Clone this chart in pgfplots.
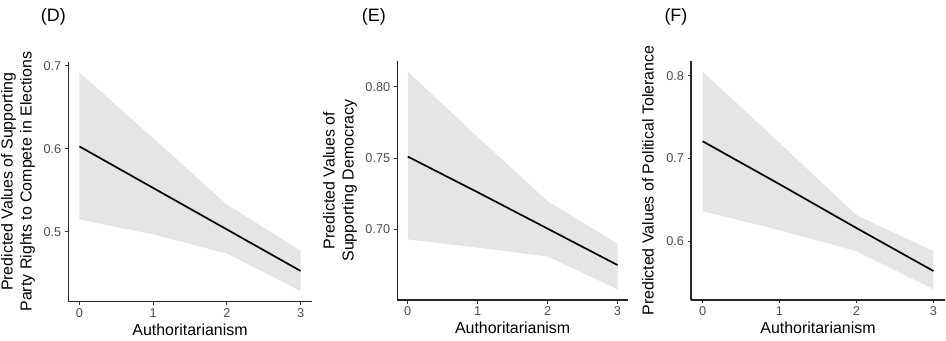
\documentclass[border=0pt]{standalone}
\usepackage{fontspec}
\setmainfont{Liberation Sans}
\usepackage{pgfplots}
\pgfplotsset{compat=1.18}
\definecolor{ribbon}{RGB}{229,229,229}
\definecolor{ticktext}{RGB}{77,77,77}
\pgfplotsset{panel/.style={
  scale only axis, axis lines=left,
  axis line style={-, line width=1.1bp, black!85},
  xmin=-0.15, xmax=3.15, xtick={0,1,2,3},
  tick align=outside, major tick length=3.5bp,
  tick style={line width=0.9bp, black!80},
  tick label style={font=\fontsize{12.8}{14}\selectfont, text=ticktext},
  /pgf/number format/assume math mode=true,
  xlabel={Authoritarianism},
  xlabel style={font=\fontsize{16}{18}\selectfont, at={(axis description cs:0.5,-0.142)}, anchor=base},
  ylabel style={font=\fontsize{16}{19}\selectfont, align=center, anchor=south},
  clip=false,
}}
\begin{document}
\begin{tikzpicture}
\useasboundingbox (0,0) rectangle (946bp,341bp);
% Panel D
\begin{axis}[panel, at={(68.3bp,39.3bp)}, anchor=south west, width=243.4bp, height=240bp,
  ymin=0.416, ymax=0.705, ytick={0.5,0.6,0.7},
  yticklabel style={/pgf/number format/.cd, fixed, fixed zerofill, precision=1},
  ylabel={Predicted Values of Supporting\\Party Rights to Compete in Elections},
  ylabel style={at={(axis description cs:-0.123,0.5)}}]
\addplot[fill=ribbon, draw=none] coordinates {(0,0.692) (1,0.613) (2,0.533) (3,0.4775) (3,0.429) (2,0.474) (1,0.497) (0,0.515)} -- cycle;
\addplot[black, line width=1.7bp] coordinates {(0,0.603) (1,0.553) (2,0.503) (3,0.453)};
\end{axis}
% Panel E
\begin{axis}[panel, at={(397.3bp,41bp)}, anchor=south west, width=230.7bp, height=239bp,
  ymin=0.6505, ymax=0.818, ytick={0.70,0.75,0.80},
  yticklabel style={/pgf/number format/.cd, fixed, fixed zerofill, precision=2},
  ylabel={Predicted Values of\\Supporting Democracy},
  ylabel style={at={(axis description cs:-0.16,0.5)}}]
\addplot[fill=ribbon, draw=none] coordinates {(0,0.8105) (1,0.7647) (2,0.7197) (3,0.690) (3,0.658) (2,0.681) (1,0.6872) (0,0.693)} -- cycle;
\addplot[black, line width=1.7bp] coordinates {(0,0.751) (1,0.726) (2,0.7005) (3,0.675)};
\end{axis}
% Panel F
\begin{axis}[panel, at={(691bp,41bp)}, anchor=south west, width=254bp, height=239bp,
  ymin=0.529, ymax=0.818, ytick={0.6,0.7,0.8},
  yticklabel style={/pgf/number format/.cd, fixed, fixed zerofill, precision=1},
  ylabel={Predicted Values of Political Tolerance},
  ylabel style={at={(axis description cs:-0.133,0.5)}}]
\addplot[fill=ribbon, draw=none] coordinates {(0,0.805) (1,0.719) (2,0.6316) (3,0.588) (3,0.542) (2,0.588) (1,0.6134) (0,0.6365)} -- cycle;
\addplot[black, line width=1.7bp] coordinates {(0,0.721) (1,0.669) (2,0.616) (3,0.564)};
\end{axis}
\node[anchor=base west, font=\fontsize{18}{20}\selectfont, inner sep=0pt] at (40.7bp,319.3bp) {(D)};
\node[anchor=base west, font=\fontsize{18}{20}\selectfont, inner sep=0pt] at (361.7bp,319.3bp) {(E)};
\node[anchor=base west, font=\fontsize{18}{20}\selectfont, inner sep=0pt] at (664.3bp,319.3bp) {(F)};
\end{tikzpicture}
\end{document}
